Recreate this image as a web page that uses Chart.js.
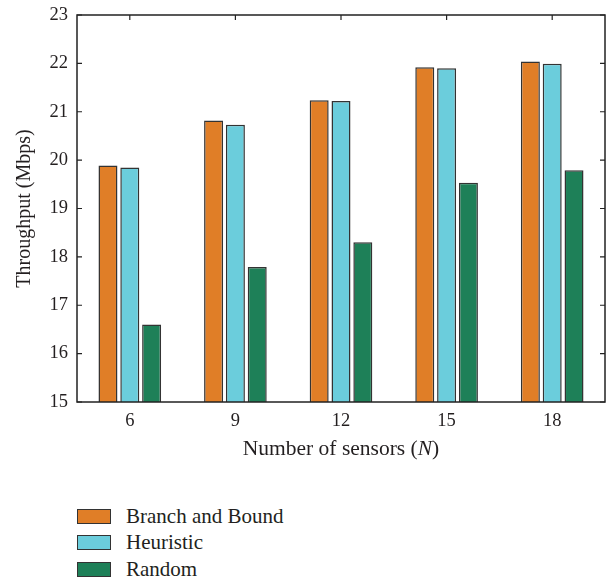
<!DOCTYPE html>
<html>
<head>
<meta charset="utf-8">
<script src="https://cdn.jsdelivr.net/npm/chart.js@4"></script>
<style>
  body { margin: 0; background: #fff; }
  #wrap { position: relative; width: 612px; height: 578px; }
  #legend { position: absolute; left: 77px; top: 503px; font-family: "Liberation Serif", serif; font-size: 21px; color: #231f20; }
  .row { display: flex; align-items: center; height: 26.6px; }
  .box { width: 32px; height: 13px; border: 1.5px solid #333; margin-right: 15px; }
</style>
</head>
<body>
<div id="wrap">
  <canvas id="chart" width="612" height="470"></canvas>
  <div id="legend"></div>
</div>
<script>
// data
const sensors = ['6', '9', '12', '15', '18'];
const branchAndBound = [19.89, 20.82, 21.24, 21.92, 22.04];
const heuristic = [19.85, 20.73, 21.22, 21.90, 21.99];
const random = [16.60, 17.79, 18.30, 19.53, 19.79];
const yTicks = [15, 16, 17, 18, 19, 20, 21, 22, 23];

const seriesNames = ['Branch and Bound', 'Heuristic', 'Random'];
const seriesColors = ['#e07e27', '#6bcddc', '#1e8058'];

const FONT = '"Liberation Serif", serif';
const INK = '#231f20';

// box round the plot with inner tick marks, like the original
const framePlugin = {
  id: 'frame',
  afterDraw(chart) {
    const { ctx, chartArea: a, scales } = chart;
    ctx.save();
    ctx.strokeStyle = '#222';
    ctx.lineWidth = 1.5;
    ctx.strokeRect(a.left, a.top, a.right - a.left, a.bottom - a.top);
    ctx.lineWidth = 1.2;
    ctx.beginPath();
    yTicks.forEach(v => {
      const y = scales.y.getPixelForValue(v);
      ctx.moveTo(a.left, y); ctx.lineTo(a.left + 5, y);
      ctx.moveTo(a.right, y); ctx.lineTo(a.right - 5, y);
    });
    sensors.forEach((s, i) => {
      const x = scales.x.getPixelForValue(i);
      ctx.moveTo(x, a.top); ctx.lineTo(x, a.top + 5);
    });
    ctx.stroke();

    // x axis title with italic N
    const parts = [['Number of sensors (', 'normal'], ['N', 'italic'], [')', 'normal']];
    ctx.fillStyle = INK;
    ctx.textBaseline = 'middle';
    let total = 0;
    parts.forEach(p => { ctx.font = p[1] + ' 21.5px ' + FONT; total += ctx.measureText(p[0]).width; });
    let x = (a.left + a.right) / 2 - total / 2;
    parts.forEach(p => {
      ctx.font = p[1] + ' 21.5px ' + FONT;
      ctx.fillText(p[0], x, 449);
      x += ctx.measureText(p[0]).width;
    });
    ctx.restore();
  }
};

const datasets = [branchAndBound, heuristic, random].map((vals, i) => ({
  label: seriesNames[i],
  data: vals,
  backgroundColor: seriesColors[i],
  borderColor: '#333',
  borderWidth: 1.5,
  categoryPercentage: 0.62,
  barPercentage: 0.87
}));

new Chart(document.getElementById('chart'), {
  type: 'bar',
  data: { labels: sensors, datasets: datasets },
  options: {
    responsive: false,
    animation: false,
    layout: { padding: { top: 15, right: 7, left: 0, bottom: 0 } },
    plugins: { legend: { display: false }, tooltip: { enabled: false } },
    scales: {
      x: {
        grid: { display: false, drawTicks: false },
        border: { display: false },
        ticks: { font: { family: FONT, size: 18.5 }, color: INK, padding: 8 },
        afterFit(scale) { scale.height = 68; scale.paddingLeft = 0; scale.paddingRight = 0; }
      },
      y: {
        min: 15, max: 23,
        grid: { display: false, drawTicks: false },
        border: { display: false },
        ticks: { stepSize: 1, font: { family: FONT, size: 18.5 }, color: INK, padding: 9 },
        title: { display: true, text: 'Throughput (Mbps)', font: { family: FONT, size: 20 }, color: INK, padding: { top: 13, bottom: 0 } },
        afterFit(scale) { scale.width = 77; scale.paddingTop = 0; scale.paddingBottom = 0; }
      }
    }
  },
  plugins: [framePlugin]
});

// legend as a vertical list under the chart
const legend = document.getElementById('legend');
seriesNames.forEach((name, i) => {
  const row = document.createElement('div');
  row.className = 'row';
  row.innerHTML = '<span class="box" style="background:' + seriesColors[i] + '"></span><span>' + name + '</span>';
  legend.appendChild(row);
});
</script>
</body>
</html>
